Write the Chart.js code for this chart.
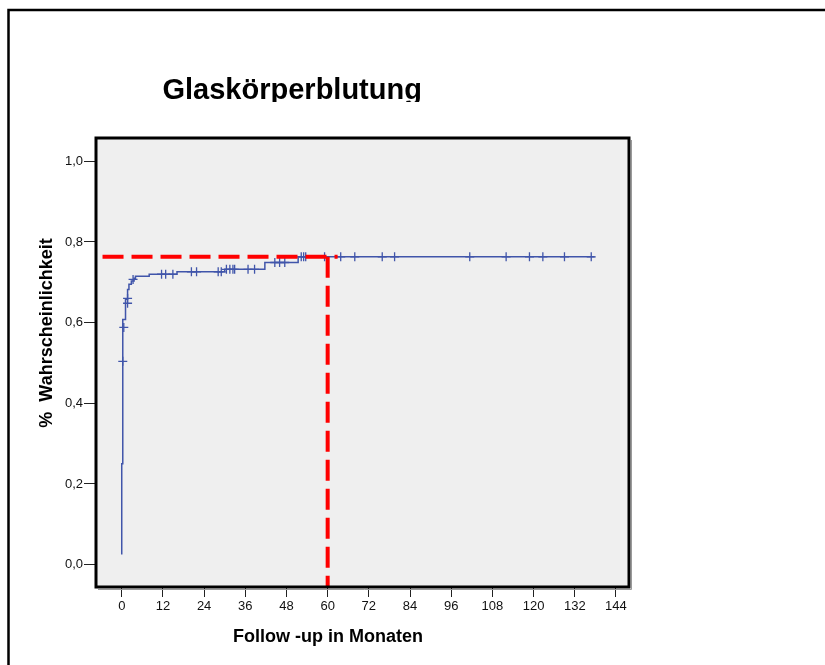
<!DOCTYPE html>
<html>
<head>
<meta charset="utf-8">
<script src="https://cdn.jsdelivr.net/npm/chart.js@4/dist/chart.umd.min.js"></script>
<style>
  html, body { margin: 0; padding: 0; background: #fff; }
  canvas { display: block; }
</style>
</head>
<body>
<canvas id="km" width="825" height="665"></canvas>
<script>
// Kaplan-Meier curve (months, cumulative probability)
var kmMonths = [0, 0, 0.3, 1.1, 1.7, 2.1, 2.8, 3.6, 4.0, 8.0, 16.1, 30.0, 41.7, 51.4, 137.8];
var kmRate   = [0.025, 0.25, 0.608, 0.658, 0.682, 0.695, 0.703, 0.71, 0.715, 0.72, 0.726, 0.732, 0.749, 0.763, 0.763];

// censored cases
var censorMonths = [0.3, 0.6, 1.7, 1.7, 3.3, 11.6, 12.8, 14.9, 20.3, 21.8, 28.1, 29.0, 30.5, 31.5, 32.4, 32.9, 36.8, 38.7,
                    44.6, 46.0, 47.5, 52.3, 53.0, 53.6, 59.1, 63.8, 67.9, 75.9, 79.5, 101.4, 112.0, 118.8, 122.7, 129.0, 136.8];
var censorRate   = [0.504, 0.588, 0.648, 0.66, 0.707, 0.72, 0.72, 0.72, 0.726, 0.726, 0.726, 0.726, 0.732, 0.732, 0.732, 0.732, 0.732, 0.732,
                    0.749, 0.749, 0.749, 0.763, 0.763, 0.763, 0.763, 0.763, 0.763, 0.763, 0.763, 0.763, 0.763, 0.763, 0.763, 0.763, 0.763];

// red reference lines (5-year mark)
var refHorizX = [-5.6, 62.9];
var refHorizY = [0.763, 0.763];
var refVertX  = [60, 60];
var refVertY  = [0.763, -0.056];

var xTicks = [0, 12, 24, 36, 48, 60, 72, 84, 96, 108, 120, 132, 144];
var yTicks = [0, 0.2, 0.4, 0.6, 0.8, 1.0];

var FONT = 'Arial, "Liberation Sans", sans-serif';

function pts(xs, ys) {
  var arr = [];
  for (var i = 0; i < xs.length; i++) {
    arr.push({x: xs[i], y: ys[i]});
  }
  return arr;
}

var decor = {
  id: 'decor',
  beforeDraw: function(chart) {
    var c = chart.ctx, a = chart.chartArea;
    c.save();
    c.fillStyle = '#fff';
    c.fillRect(0, 0, chart.width, chart.height);
    // outer frame (left and top)
    c.strokeStyle = '#000';
    c.lineWidth = 2.5;
    c.beginPath();
    c.moveTo(8.5, chart.height);
    c.lineTo(8.5, 10);
    c.lineTo(chart.width, 10);
    c.stroke();
    c.fillStyle = '#efefef';
    c.fillRect(a.left, a.top, a.right - a.left, a.bottom - a.top);
    c.restore();
  },
  afterDatasetsDraw: function(chart) {
    var c = chart.ctx, a = chart.chartArea;
    c.save();
    c.strokeStyle = '#9a9a9a';
    c.lineWidth = 1;
    c.beginPath();
    c.moveTo(a.right + 2.5, a.top + 2);
    c.lineTo(a.right + 2.5, a.bottom + 2.5);
    c.lineTo(a.left + 2, a.bottom + 2.5);
    c.stroke();
    c.strokeStyle = '#000';
    c.lineWidth = 3;
    c.strokeRect(a.left, a.top, a.right - a.left, a.bottom - a.top);
    c.restore();
  },
  afterDraw: function(chart) {
    var c = chart.ctx;
    c.save();
    c.fillStyle = '#000';
    // title, clipped at the bottom like the original
    c.save();
    c.beginPath();
    c.rect(0, 0, chart.width, 102);
    c.clip();
    c.font = 'bold 29px ' + FONT;
    c.textAlign = 'left';
    c.textBaseline = 'alphabetic';
    c.fillText('Glaskörperblutung', 162.5, 98.5);
    c.restore();
    // axis titles
    c.font = 'bold 18px ' + FONT;
    c.textAlign = 'center';
    c.textBaseline = 'alphabetic';
    c.fillText('Follow -up in Monaten', 328, 641.5);
    c.translate(51.5, 333);
    c.rotate(-Math.PI / 2);
    c.fillText('%  Wahrscheinlichkeit', 0, 0);
    c.restore();
  }
};

var ctx = document.getElementById('km').getContext('2d');

var chart = new Chart(ctx, {
  type: 'line',
  data: {
    datasets: [{
      data: pts(refHorizX, refHorizY),
      borderColor: '#ff0000',
      borderWidth: 4,
      borderDash: [21, 8],
      pointRadius: 0,
      fill: false
    }, {
      data: pts(refVertX, refVertY),
      borderColor: '#ff0000',
      borderWidth: 4,
      borderDash: [21, 8],
      pointRadius: 0,
      fill: false
    }, {
      data: pts(censorMonths, censorRate),
      showLine: false,
      pointStyle: 'cross',
      pointRadius: 4.5,
      pointBorderWidth: 1.3,
      pointBorderColor: '#4055aa',
      borderColor: '#4055aa'
    }, {
      data: pts(kmMonths, kmRate),
      stepped: 'before',
      borderColor: '#4055aa',
      borderWidth: 1.5,
      pointRadius: 0,
      fill: false
    }]
  },
  options: {
    responsive: false,
    animation: false,
    devicePixelRatio: 1,
    layout: { padding: { left: 0, top: 138, right: 196, bottom: 0 } },
    plugins: {
      legend: { display: false },
      tooltip: { enabled: false },
      title: { display: false }
    },
    scales: {
      x: {
        type: 'linear',
        min: -7.5,
        max: 147.8,
        afterFit: function(s) { s.height = 78; },
        afterBuildTicks: function(s) { s.ticks = xTicks.map(function(v) { return {value: v}; }); },
        border: { display: false },
        grid: { drawOnChartArea: false, drawTicks: true, tickLength: 10, color: '#222', lineWidth: 1 },
        ticks: {
          padding: 2,
          color: '#111',
          font: { family: FONT, size: 13 },
          maxRotation: 0,
          autoSkip: false,
          callback: function(v) { return String(v); }
        }
      },
      y: {
        type: 'linear',
        min: -0.0553,
        max: 1.0576,
        afterFit: function(s) { s.width = 96; },
        afterBuildTicks: function(s) { s.ticks = yTicks.map(function(v) { return {value: v}; }); },
        border: { display: false },
        grid: { drawOnChartArea: false, drawTicks: true, tickLength: 12, color: '#222', lineWidth: 1 },
        ticks: {
          padding: 1,
          color: '#111',
          font: { family: FONT, size: 13 },
          autoSkip: false,
          callback: function(v) { return v.toFixed(1).replace('.', ','); }
        }
      }
    }
  },
  plugins: [decor]
});
</script>
</body>
</html>
